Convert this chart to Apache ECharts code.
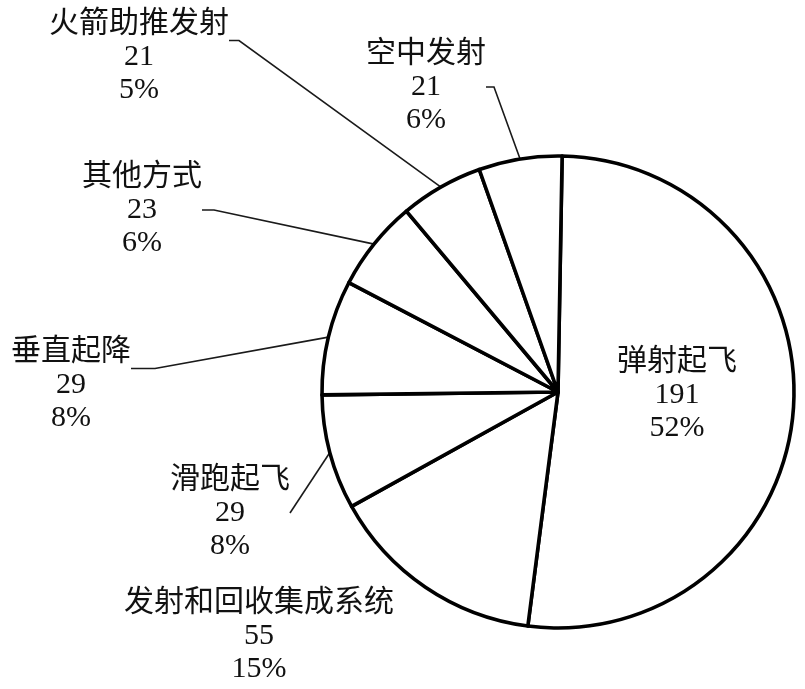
<!DOCTYPE html>
<html>
<head>
<meta charset="utf-8">
<script src="https://cdn.jsdelivr.net/npm/echarts@6/dist/echarts.min.js"></script>
<style>
html,body{margin:0;padding:0;background:#fff;}
#chart{width:805px;height:689px;}
</style>
</head>
<body>
<div id="chart"></div>
<script>
const categories = ['弹射起飞', '发射和回收集成系统', '滑跑起飞', '垂直起降', '其他方式', '火箭助推发射', '空中发射'];
const counts = [191, 55, 29, 29, 23, 21, 21];
const percentLabels = ['52%', '15%', '8%', '8%', '6%', '5%', '6%'];

// label layout (block centres) and guide line settings
const labelPositions = [[677, 395], [259, 636], [230, 513], [71, 368.5], [142, 210], [139, 40.5], [426, 87]];
const leadBlankLine = [false, false, false, true, false, true, false];
const showGuide = [false, false, true, true, true, true, true];
const guideLen2 = [0, 0, 0, 24, 12, 10, 8];

const chart = echarts.init(document.getElementById('chart'), null, {renderer: 'canvas'});
const data = categories.map((name, i) => ({
  name: name,
  value: counts[i],
  pct: percentLabels[i],
  lead: leadBlankLine[i],
  labelLine: {show: showGuide[i], length2: guideLen2[i]}
}));

chart.setOption({
  backgroundColor: '#ffffff',
  animation: false,
  series: [{
    type: 'pie',
    center: [558, 392],
    radius: 236,
    startAngle: 89,
    clockwise: true,
    avoidLabelOverlap: false,
    silent: true,
    itemStyle: {color: '#ffffff', borderColor: '#000000', borderWidth: 3.6},
    label: {
      show: true,
      position: 'outside',
      formatter: function (p) { return (p.data.lead ? '\n' : '') + p.name + '\n' + p.value + '\n' + p.data.pct; },
      fontFamily: "'Liberation Serif', 'Noto Sans CJK SC', serif",
      fontSize: 30,
      lineHeight: 33,
      color: '#111111',
      align: 'center'
    },
    labelLine: {
      show: true,
      length: 10,
      length2: 10,
      lineStyle: {color: '#1a1a1a', width: 1.6}
    },
    labelLayout: function (params) {
      const p = labelPositions[params.dataIndex];
      return {x: p[0], y: p[1], align: 'center', verticalAlign: 'middle', moveOverlap: null, hideOverlap: false};
    },
    emphasis: {disabled: true},
    data: data
  }]
});
</script>
</body>
</html>
